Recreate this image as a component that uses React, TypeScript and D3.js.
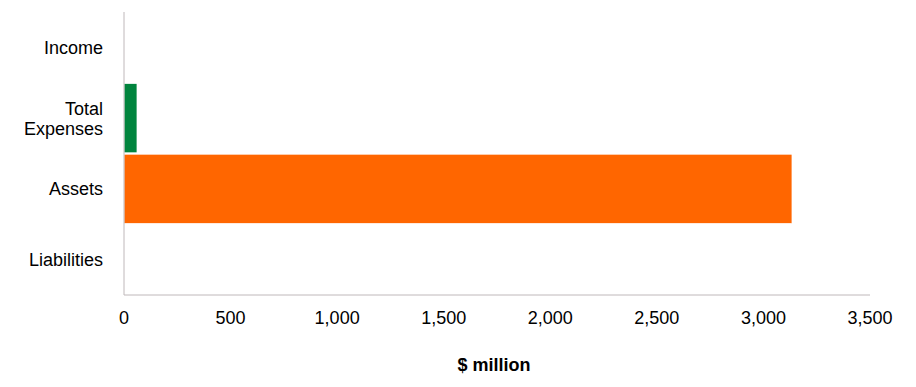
import React, { useEffect, useRef } from "react";
import * as d3 from "d3";

const categories = ["Income", "Total Expenses", "Assets", "Liabilities"];
const values = [0, 61, 3134, 0];
const barColors = ["#00843D", "#00843D", "#FF6600", "#FF6600"];
const xTicks = [0, 500, 1000, 1500, 2000, 2500, 3000, 3500];

const W = 916;
const H = 387;
const margin = { left: 124, right: 46, top: 12, bottom: 92 };

export default function App() {
  const ref = useRef<SVGSVGElement | null>(null);
  useEffect(() => {
    const svg = d3.select(ref.current);
    svg.selectAll("*").remove();
    const x = d3.scaleLinear().domain([0, 3500]).range([margin.left, W - margin.right]);
    const y = d3
      .scaleBand<string>()
      .domain(categories)
      .range([margin.top, H - margin.bottom])
      .paddingInner(0.02)
      .paddingOuter(0.01);
    const font = "'Liberation Sans', Arial, sans-serif";

    svg
      .append("g")
      .selectAll("rect")
      .data(categories)
      .join("rect")
      .attr("x", x(0))
      .attr("y", (d) => y(d)!)
      .attr("width", (d, i) => x(values[i]) - x(0))
      .attr("height", y.bandwidth())
      .attr("fill", (d, i) => barColors[i])
      .attr("stroke", "#fff")
      .attr("stroke-width", 0.75);

    svg
      .append("line")
      .attr("x1", x(0))
      .attr("x2", x(0))
      .attr("y1", margin.top)
      .attr("y2", H - margin.bottom)
      .attr("stroke", "#BFB8BA")
      .attr("stroke-width", 1);
    svg
      .append("line")
      .attr("x1", x(0))
      .attr("x2", x(3500))
      .attr("y1", H - margin.bottom)
      .attr("y2", H - margin.bottom)
      .attr("stroke", "#BFB8BA")
      .attr("stroke-width", 1);

    svg
      .append("g")
      .selectAll("text")
      .data(xTicks)
      .join("text")
      .attr("x", (d) => x(d))
      .attr("y", 324)
      .attr("text-anchor", "middle")
      .attr("font-family", font)
      .attr("font-size", 18)
      .attr("fill", "#000")
      .text((d) => d3.format(",")(d));

    const labels = svg.append("g");
    categories.forEach((c) => {
      const cy = y(c)! + y.bandwidth() / 2;
      const lines = c === "Total Expenses" ? ["Total", "Expenses"] : [c];
      const t = labels
        .append("text")
        .attr("text-anchor", "end")
        .attr("font-family", font)
        .attr("font-size", 18)
        .attr("fill", "#000");
      lines.forEach((l, i) => {
        t.append("tspan")
          .attr("x", 103)
          .attr("y", cy + 6.5 + (i - (lines.length - 1) / 2) * 20)
          .text(l);
      });
    });

    svg
      .append("text")
      .attr("x", 494)
      .attr("y", 371)
      .attr("text-anchor", "middle")
      .attr("font-family", font)
      .attr("font-size", 18)
      .attr("font-weight", "bold")
      .attr("fill", "#000")
      .text("$ million");
  }, []);
  return (
    <svg
      ref={ref}
      width={W}
      height={H}
      style={{ position: "absolute", left: 0, top: 0, background: "#fff" }}
    />
  );
}
